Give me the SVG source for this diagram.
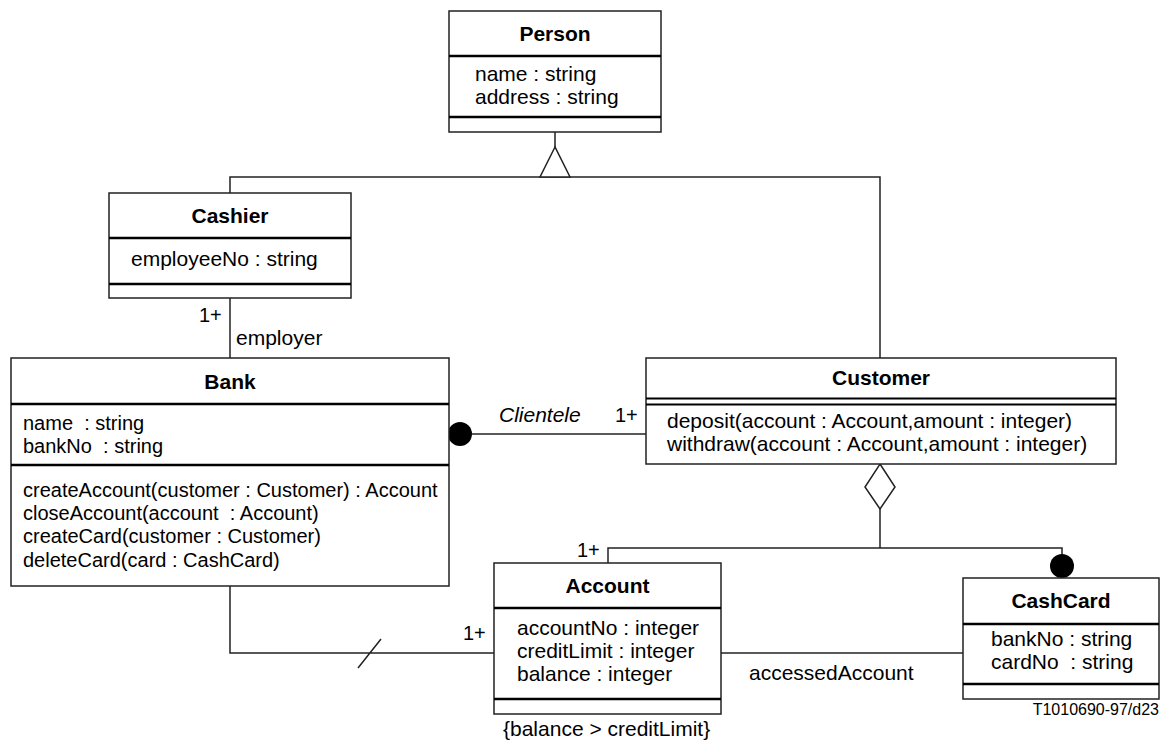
<svg xmlns="http://www.w3.org/2000/svg" width="1167" height="745" viewBox="0 0 1167 745">
<style>
text{font-family:"Liberation Sans",Arial,sans-serif;font-size:21px;fill:#000}
.t{font-weight:bold;text-anchor:middle}
.b{font-size:20px}
.s{font-size:16px}
.i{font-style:italic}
.box{fill:#fff;stroke:#222;stroke-width:1.5}
.sep{stroke:#000;stroke-width:2.5}
.c{fill:none;stroke:#222;stroke-width:1.5}
</style>
<rect width="1167" height="745" fill="#fff"/>
<g id="connectors">
<path class="c" d="M555 132V147M230 193V177H880V358"/>
<path d="M555 147L540 177H570Z" fill="#fff" stroke="#222" stroke-width="1.5"/>
<path class="c" d="M230 298V358"/>
<path class="c" d="M472 434H646"/>
<circle cx="460" cy="434" r="12" fill="#000"/>
<path class="c" d="M230 586V653H494M358 668L381 639"/>
<path class="c" d="M880 509V548M608 563V548H1062V556"/>
<path d="M880 464L895 487L880 509L865 487Z" fill="#fff" stroke="#222" stroke-width="1.5"/>
<circle cx="1062" cy="566" r="12" fill="#000"/>
<path class="c" d="M721 653H963"/>
<text x="199" y="322" class="b">1+</text>
<text x="236" y="345">employer</text>
<text x="499" y="422" class="i">Clientele</text>
<text x="615" y="422" class="b">1+</text>
<text x="463" y="640" class="b">1+</text>
<text x="577" y="557" class="b">1+</text>
<text x="749" y="680">accessedAccount</text>
</g>
<g id="Person">
<rect class="box" x="449" y="11" width="212" height="121"/>
<path class="sep" d="M449 56H661M449 117H661"/>
<text x="555" y="41" class="t">Person</text>
<text x="475" y="81">name : string</text>
<text x="475" y="104">address : string</text>
</g>
<g id="Cashier">
<rect class="box" x="109" y="193" width="242" height="105"/>
<path class="sep" d="M109 238H351M109 284H351"/>
<text x="230" y="223" class="t">Cashier</text>
<text x="131" y="266">employeeNo : string</text>
</g>
<g id="Bank">
<rect class="box" x="11" y="358" width="438" height="228"/>
<path class="sep" d="M11 404H449M11 465H449"/>
<text x="230" y="389" class="t">Bank</text>
<text x="23" y="430" class="b" xml:space="preserve">name  : string</text>
<text x="23" y="453" class="b" xml:space="preserve">bankNo  : string</text>
<text x="23" y="497" class="b">createAccount(customer : Customer) : Account</text>
<text x="23" y="520" class="b" xml:space="preserve">closeAccount(account  : Account)</text>
<text x="23" y="543" class="b">createCard(customer : Customer)</text>
<text x="23" y="567" class="b">deleteCard(card : CashCard)</text>
</g>
<g id="Customer">
<rect class="box" x="646" y="358" width="470" height="106"/>
<path class="sep" d="M646 398.5H1116M646 404.5H1116" style="stroke-width:2"/>
<text x="881" y="385" class="t">Customer</text>
<text x="667" y="428">deposit(account : Account,amount : integer)</text>
<text x="667" y="451">withdraw(account : Account,amount : integer)</text>
</g>
<g id="Account">
<rect class="box" x="494" y="563" width="227" height="151"/>
<path class="sep" d="M494 608H721M494 699H721"/>
<text x="607.5" y="593" class="t">Account</text>
<text x="517" y="635">accountNo : integer</text>
<text x="517" y="658">creditLimit : integer</text>
<text x="517" y="681">balance : integer</text>
<text x="503" y="736">{balance &gt; creditLimit}</text>
</g>
<g id="CashCard">
<rect class="box" x="963" y="578" width="196" height="121"/>
<path class="sep" d="M963 624H1159M963 684H1159"/>
<text x="1061" y="608" class="t">CashCard</text>
<text x="991" y="646">bankNo : string</text>
<text x="991" y="669" xml:space="preserve">cardNo  : string</text>
</g>
<text x="1159" y="715" class="s" text-anchor="end">T1010690-97/d23</text>
</svg>
